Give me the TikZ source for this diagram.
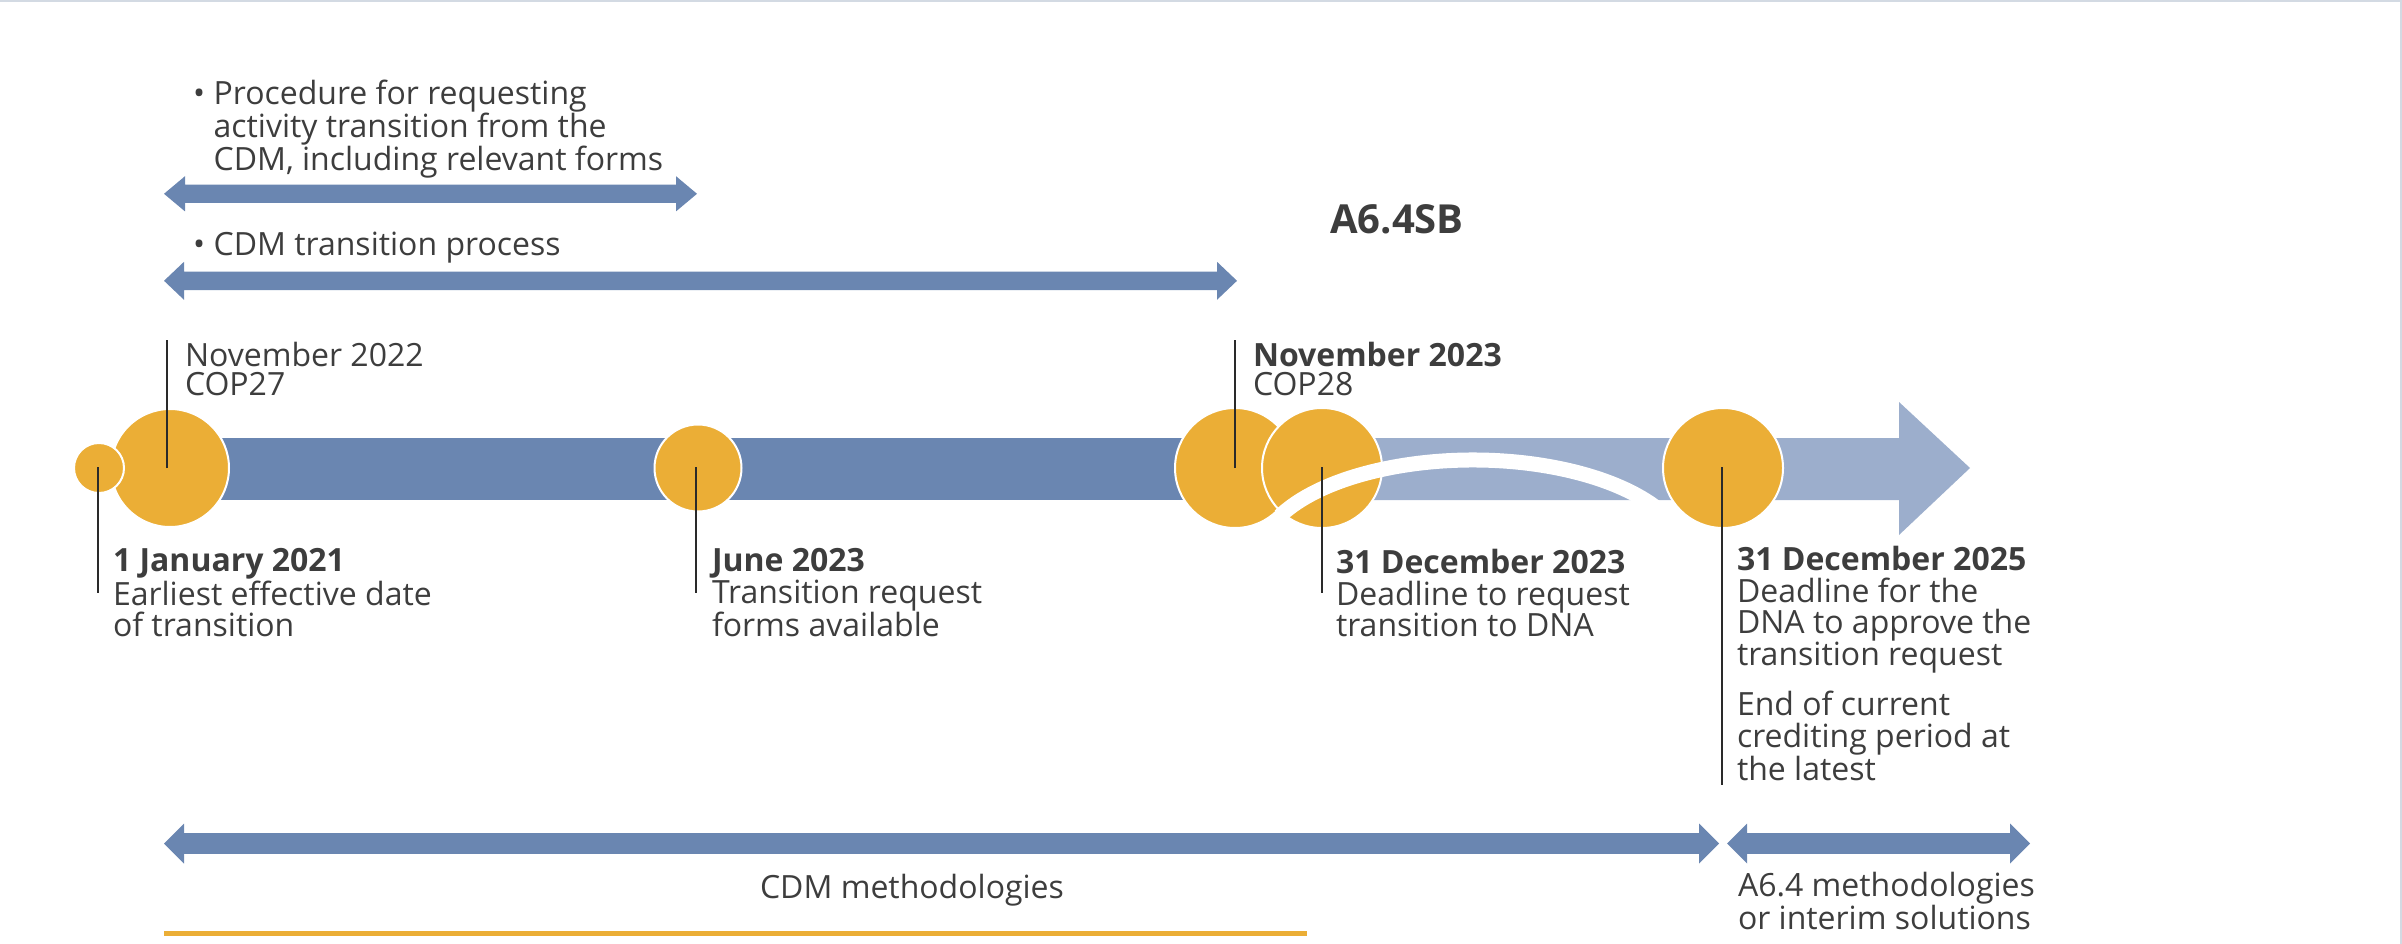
\documentclass[tikz,border=0pt]{standalone}
\usepackage{fontspec}
\setmainfont{Open Sans}
\definecolor{dot}{HTML}{EBAE36}
\definecolor{barA}{HTML}{6A86B1}
\definecolor{barB}{HTML}{9CAECC}
\definecolor{txt}{HTML}{3D3D3D}
\definecolor{vline}{HTML}{2A2A2A}
\definecolor{frame}{HTML}{D3DAE3}
\newcommand\dblarrow[7]{% colour, x1, x2, y, shaft half, head half, head length
  \fill[#1] (#2,#4) -- ({#2+#7},{#4-#6}) -- ({#2+#7},{#4-#5}) -- ({#3-#7},{#4-#5}) -- ({#3-#7},{#4-#6}) -- (#3,#4) -- ({#3-#7},{#4+#6}) -- ({#3-#7},{#4+#5}) -- ({#2+#7},{#4+#5}) -- ({#2+#7},{#4+#6}) -- cycle;}
\begin{document}
\begin{tikzpicture}[x=1pt,y=-1pt,
  lbl/.style={anchor=base west, inner sep=0pt, outer sep=0pt, align=left, text=txt, font=\fontsize{32}{31.7}\selectfont},
  lblc/.style={lbl, font=\fontsize{32}{29.5}\selectfont},
  dotnode/.style={circle, inner sep=0pt, fill=dot, draw=white, line width=2pt},
  vl/.style={draw=vline, line width=2pt}]
\useasboundingbox (0,0) rectangle (2402,944);
% frame
\draw[frame, line width=2.5pt] (0,1) -- (2401,1) -- (2401,944);

% top bullets and arrows (anchor = baseline of last line)
\node[lbl] (t1) at (193,170.7) {\makebox[20.6pt][l]{•}Procedure for requesting\\\hspace*{20.6pt}activity transition from the\\\hspace*{20.6pt}CDM, including relevant forms};
\dblarrow{barA}{164}{697}{193.8}{9.2}{17.6}{21}
\node[lbl] (t2) at (193,255) {\makebox[20.6pt][l]{•}CDM transition process};
\dblarrow{barA}{164}{1237}{280.8}{9.2}{19}{20}
\node[anchor=base west, inner sep=0pt, text=txt, font=\fontsize{40}{40}\selectfont\bfseries] (sb) at (1330,234) {A6.4SB};

% timeline bars
\fill[barB] (1235,438) -- (1899,438) -- (1899,402) -- (1970,468) -- (1899,535) -- (1899,500) -- (1235,500) -- cycle;
\fill[barA] (170,438) rectangle (1235,500);

% circles
\node[dotnode, minimum size=118pt] (c2) at (170,468) {};
\node[dotnode, minimum size=50pt] (c1) at (99,468) {};
\node[dotnode, minimum size=87pt] (c3) at (698,468) {};
\node[dotnode, minimum size=120pt] (c4) at (1235,468) {};
\node[dotnode, minimum size=120pt] (c5) at (1322,468) {};
\node[dotnode, minimum size=120pt] (c6) at (1723,468) {};

% white arc
\coordinate (arcS) at ({1473+215*cos(154)},{560-100*sin(154)});
\draw[white, line width=15pt] (arcS) arc[start angle=154, end angle=30, x radius=215pt, y radius=100pt];

% leader lines
\coordinate (e1) at (98,593);
\coordinate (e2) at (167,340);
\coordinate (e3) at (696,593);
\coordinate (e4) at (1235,340);
\coordinate (e5) at (1322,593);
\coordinate (e6) at (1722,785);
\draw[vl] (98,467) -- (e1);
\draw[vl] (167,468) -- (e2);
\draw[vl] (696,467) -- (e3);
\draw[vl] (1235,468) -- (e4);
\draw[vl] (1322,467) -- (e5);
\draw[vl] (1722,467) -- (e6);

% labels (anchor = baseline of last line)
\node[lblc] (l2) at (185,395.5) {November 2022\\COP27};
\node[lblc] (l4) at (1253,395.5) {\textbf{November 2023}\\COP28};
\node[lbl] (l1) at (113,636.7) {\textbf{1 January 2021}\\Earliest effective date\\of transition};
\node[lbl] (l3) at (712,636.7) {\textbf{June 2023}\\Transition request\\forms available};
\node[lbl] (l5) at (1336,636.7) {\textbf{31 December 2023}\\Deadline to request\\transition to DNA};
\node[lbl] (l6) at (1737,780.2) {\textbf{31 December 2025}\\Deadline for the\\DNA to approve the\\transition request\\[16.7pt]End of current\\crediting period at\\the latest};

% bottom arrows
\dblarrow{barA}{164}{1719}{843.5}{10.3}{20}{20}
\dblarrow{barA}{1727}{2030}{843.5}{10.3}{20}{20}
\node[anchor=base, inner sep=0pt, text=txt, font=\fontsize{32}{31.7}\selectfont] (m1) at (912,898) {CDM methodologies};
\node[lbl] (m2) at (1738,929.7) {A6.4 methodologies\\or interim solutions};
\draw[dot, line width=5pt] (164,933) -- (1307,933);
\end{tikzpicture}
\end{document}
